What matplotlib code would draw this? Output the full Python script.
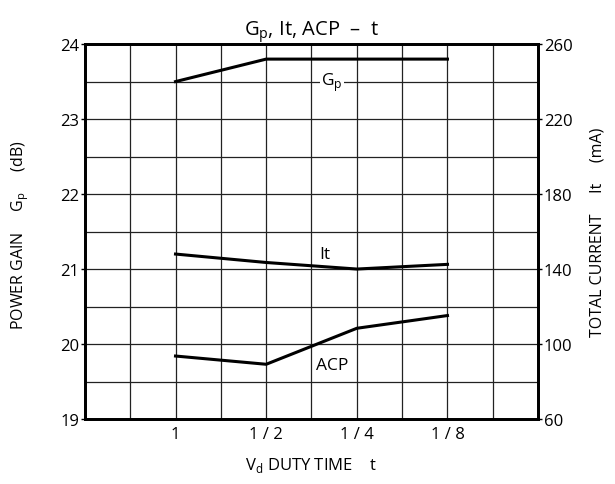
import matplotlib.pyplot as plt

plt.rcParams['font.family'] = ['Open Sans', 'DejaVu Sans']
plt.rcParams['mathtext.fontset'] = 'custom'
plt.rcParams['mathtext.rm'] = 'Open Sans'

# duty time categories (placed on a 10-column grid)
duty = ['1', '1 / 2', '1 / 4', '1 / 8']
xpos = [2, 4, 6, 8]

# power gain (dB, left axis)
gp = [23.5, 23.8, 23.8, 23.8]
# total current (mA, right axis)
it_ma = [148, 143.5, 140, 142.5]
# ACP, drawn against the left scale
acp = [19.84, 19.73, 20.21, 20.38]

fig = plt.figure(figsize=(6.15, 4.85), dpi=100)
ax = fig.add_axes([0.138, 0.134, 0.737, 0.773])
ax.set_xlim(0, 10)
ax.set_ylim(19, 24)

ax2 = ax.twinx()
ax2.set_ylim(60, 260)

# grid
for x in range(1, 10):
    ax.axvline(x, color='#222222', lw=0.9, zorder=1)
for k in range(1, 10):
    ax.axhline(19 + 0.5 * k, color='#222222', lw=0.9, zorder=1)

ax.plot(xpos, gp, color='black', lw=2.2, zorder=3)
ax.plot(xpos, acp, color='black', lw=2.2, zorder=3)
ax2.plot(xpos, it_ma, color='black', lw=2.2, zorder=3)

ax.set_xticks(xpos)
ax.set_xticklabels(duty, fontsize=12)
ax.tick_params(axis='x', length=0, pad=5)
ax.set_yticks([19, 20, 21, 22, 23, 24])
ax.tick_params(axis='y', labelsize=12, length=3, width=1, pad=1)
ax2.set_yticks([60, 100, 140, 180, 220, 260])
ax2.tick_params(axis='y', labelsize=12, length=3, width=1, pad=1)

for a in (ax, ax2):
    for s in a.spines.values():
        s.set_linewidth(2)

# curve labels
ax.text(5.45, 23.5, 'G$_\\mathregular{p}$', fontsize=12.5, ha='center', va='center',
        bbox=dict(facecolor='white', edgecolor='none', pad=1), zorder=4)
ax.text(5.3, 21.2, 'It', fontsize=12.5, ha='center', va='center', zorder=4)
ax.text(5.45, 19.72, 'ACP', fontsize=12.5, ha='center', va='center',
        bbox=dict(facecolor='white', edgecolor='none', pad=0.5), zorder=4)

ax.set_title('G$_\\mathregular{p}$, It, ACP  \u2013  t', fontsize=14.5, pad=6)
fig.text(0.505, 0.04, 'V$_\\mathregular{d}$ DUTY TIME    t', fontsize=12,
         ha='center', va='center')
fig.text(0.033, 0.515, 'POWER GAIN     G$_\\mathregular{p}$     (dB)', fontsize=11.5,
         rotation=90, ha='center', va='center')
fig.text(0.972, 0.52, 'TOTAL CURRENT     It     (mA)', fontsize=11.5,
         rotation=90, ha='center', va='center')

fig.savefig('out.png', dpi=100)
